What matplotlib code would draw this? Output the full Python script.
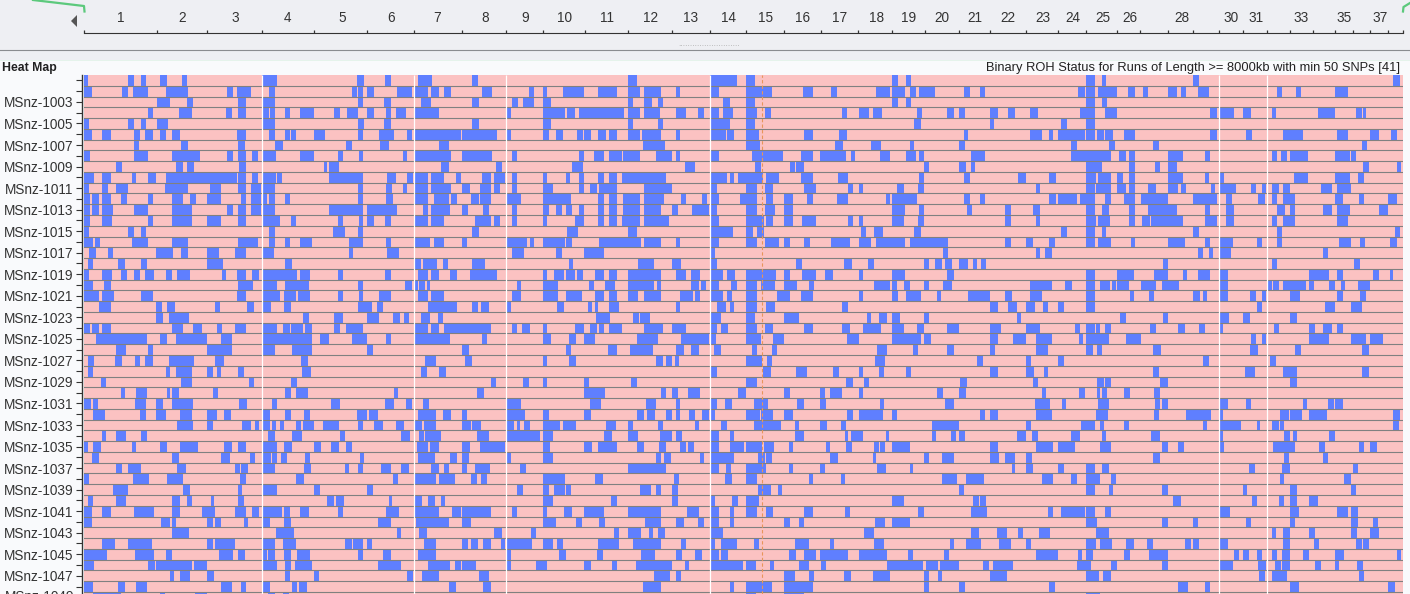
import matplotlib
matplotlib.use("Agg")
import matplotlib.pyplot as plt
from matplotlib.patches import Rectangle, Polygon

# chromosome ruler
chrom_labels = [1, 2, 3, 4, 5, 6, 7, 8, 9, 10, 11, 12, 13, 14, 15, 16, 17, 18, 19, 20, 21, 22, 23, 24, 25, 26, 28, 30, 31, 33, 35, 37]
chrom_label_pos = [121, 182, 235, 288, 342, 391, 437, 485, 525, 564, 607, 651, 691, 728, 766, 803, 840, 877, 909, 942, 975, 1008, 1043, 1073, 1103, 1130, 1182, 1231, 1256, 1301, 1344, 1380]
chrom_bounds = [84, 157, 207, 262, 314, 367, 414, 462, 506, 543, 585, 628, 672, 710, 746, 784, 821, 858, 892, 925, 959, 990, 1026, 1058, 1086, 1117, 1140, 1168, 1193, 1219, 1243, 1267, 1290, 1313, 1335, 1353, 1370, 1388, 1403]
white_bounds = [262, 414, 506, 710, 1219, 1267]
marker_pos = 762

sample_ids = list(range(1001, 1050))

# blue runs (ROH present) per sample, start and end along the genome axis
roh_runs = [
    [(84,88),(128,134),(141,146),(160,167),(182,187),(262,277),(357,364),(385,391),(418,432),(472,478),(628,637),(710,737),(746,755),(892,898),(906,911),(1086,1095),(1102,1106),(1193,1199),(1393,1400)],
    [(84,92),(122,128),(133,148),(166,188),(227,233),(237,251),(269,275),(352,357),(358,363),(367,374),(397,412),(415,428),(431,439),(444,451),(482,492),(529,534),(543,547),(563,584),(598,617),(628,640),(644,661),(676,680),(710,719),(746,772),(803,813),(831,837),(876,890),(892,905),(910,916),(919,935),(964,970),(980,985),(1078,1085),(1086,1095),(1098,1117),(1128,1135),(1143,1148),(1168,1177),(1181,1186),(1198,1209),(1277,1282),(1296,1301),(1335,1348)],
    [(157,170),(187,193),(238,246),(262,275),(358,363),(384,391),(421,431),(472,479),(512,518),(523,534),(543,551),(628,633),(644,652),(658,663),(723,730),(746,755),(892,898),(906,911),(1086,1095),(1102,1107)],
    [(148,153),(179,192),(226,232),(238,246),(262,269),(270,275),(285,290),(300,314),(334,340),(347,358),(367,374),(386,391),(396,406),(414,439),(506,511),(543,565),(567,575),(579,624),(628,640),(644,660),(676,686),(698,704),(710,719),(723,733),(746,757),(765,771),(842,847),(859,869),(873,882),(917,922),(947,954),(959,965),(990,998),(1008,1015),(1030,1038),(1080,1095),(1105,1117),(1210,1217),(1219,1234),(1243,1251),(1272,1276),(1318,1335),(1356,1362),(1363,1366)],
    [(84,89),(128,134),(141,146),(157,168),(262,275),(358,364),(384,391),(472,479),(543,551),(628,633),(658,663),(710,730),(746,755),(914,921),(990,994),(1061,1067),(1086,1095)],
    [(84,92),(102,111),(134,140),(145,153),(160,166),(172,180),(237,246),(269,275),(285,290),(291,296),(314,325),(358,363),(379,394),(407,412),(414,461),(462,497),(506,511),(543,549),(556,563),(577,583),(584,591),(598,606),(609,617),(628,640),(642,661),(676,680),(710,726),(727,734),(746,759),(804,813),(839,847),(964,968),(1030,1042),(1049,1053),(1058,1085),(1086,1095),(1097,1104),(1105,1113),(1124,1135),(1210,1217),(1246,1252),(1283,1303),(1337,1348),(1370,1379),(1391,1397)],
    [(134,139),(181,188),(238,245),(275,283),(346,352),(380,389),(439,449),(643,665),(746,760),(835,843),(871,881),(910,914),(959,965),(1071,1077),(1109,1115),(1153,1159),(1362,1367)],
    [(84,90),(134,148),(172,200),(227,233),(238,246),(252,258),(262,276),(300,314),(338,343),(359,363),(403,407),(414,451),(462,492),(512,517),(579,584),(594,604),(609,622),(623,640),(656,672),(676,680),(710,719),(752,783),(801,813),(820,846),(851,855),(880,890),(906,916),(919,924),(971,985),(1071,1111),(1119,1126),(1129,1135),(1168,1183),(1205,1210),(1272,1277),(1281,1287),(1290,1308),(1335,1350),(1351,1356)],
    [(116,122),(176,183),(187,194),(239,246),(324,327),(329,339),(441,449),(496,502),(572,583),(685,695),(755,761),(790,795),(796,804),(924,929),(959,966),(971,975),(1086,1102),(1129,1135),(1155,1160),(1168,1177),(1363,1369),(1397,1401)],
    [(84,94),(102,111),(132,136),(148,156),(166,237),(238,246),(252,258),(262,276),(277,282),(329,363),(387,396),(407,413),(414,428),(431,444),(456,461),(482,491),(494,505),(512,517),(543,547),(566,570),(579,584),(598,604),(609,617),(622,666),(710,727),(730,734),(738,763),(766,779),(801,813),(838,848),(919,924),(964,970),(1018,1026),(1049,1056),(1086,1096),(1098,1111),(1117,1123),(1129,1135),(1168,1183),(1205,1209),(1219,1224),(1294,1308),(1335,1350),(1358,1364)],
    [(84,89),(102,108),(116,128),(165,188),(210,221),(238,246),(251,261),(262,275),(358,363),(386,392),(403,407),(414,428),(431,451),(462,470),(480,491),(494,500),(512,517),(543,553),(579,584),(590,597),(599,617),(644,672),(710,717),(746,757),(765,773),(804,816),(848,853),(859,863),(897,904),(918,924),(1036,1040),(1086,1095),(1096,1111),(1117,1126),(1129,1135),(1148,1156),(1168,1178),(1181,1186),(1211,1215),(1219,1236),(1251,1256),(1262,1266),(1272,1279),(1283,1290),(1321,1332),(1337,1351)],
    [(84,90),(92,99),(102,111),(121,127),(148,153),(172,183),(190,196),(207,221),(241,246),(251,261),(262,267),(269,275),(285,290),(358,363),(386,393),(414,428),(434,449),(451,457),(471,479),(480,491),(506,521),(543,571),(598,604),(609,617),(623,640),(644,664),(681,686),(702,707),(710,719),(740,757),(766,773),(784,793),(807,813),(837,848),(886,890),(892,917),(964,970),(980,985),(1049,1056),(1058,1077),(1080,1095),(1105,1111),(1124,1135),(1141,1168),(1193,1217),(1226,1232),(1258,1265),(1272,1277),(1283,1295),(1335,1343),(1359,1364),(1388,1397)],
    [(84,90),(92,99),(102,113),(134,148),(172,192),(227,233),(238,246),(251,261),(262,275),(329,363),(367,397),(423,428),(431,450),(462,468),(483,489),(512,517),(543,549),(556,562),(566,572),(579,584),(598,604),(609,617),(623,640),(644,661),(672,678),(692,709),(710,717),(746,757),(765,775),(784,793),(892,905),(919,924),(967,972),(1005,1011),(1033,1040),(1086,1095),(1102,1109),(1129,1135),(1148,1177),(1205,1210),(1226,1234),(1277,1285),(1290,1295),(1323,1332),(1337,1350),(1379,1388)],
    [(84,90),(102,112),(148,153),(172,192),(207,221),(238,246),(262,280),(291,296),(338,343),(359,363),(367,374),(385,391),(414,428),(431,444),(475,491),(494,500),(512,517),(543,547),(575,584),(598,604),(609,617),(622,640),(644,669),(710,719),(746,764),(766,773),(784,793),(802,816),(848,853),(859,863),(892,904),(918,924),(1005,1011),(1036,1040),(1086,1096),(1098,1110),(1129,1135),(1142,1150),(1151,1183),(1205,1217),(1226,1234),(1272,1277),(1283,1295),(1337,1348)],
    [(84,89),(128,134),(141,146),(269,275),(333,345),(358,363),(472,479),(567,578),(628,637),(710,733),(746,753),(757,764),(861,866),(874,883),(914,921),(1061,1067),(1086,1095),(1102,1106),(1193,1199),(1277,1282),(1395,1400)],
    [(84,93),(95,100),(132,148),(172,188),(238,258),(269,275),(285,290),(300,312),(349,363),(386,391),(414,430),(434,444),(462,467),(506,527),(530,534),(543,565),(566,572),(599,641),(644,661),(676,680),(710,719),(746,757),(765,779),(784,790),(804,810),(831,850),(859,871),(876,905),(910,948),(1005,1011),(1026,1033),(1049,1055),(1086,1095),(1098,1111),(1131,1135),(1168,1185),(1205,1210),(1219,1233),(1257,1262),(1277,1282),(1339,1351),(1360,1365),(1390,1397)],
    [(89,96),(108,113),(156,173),(181,188),(207,219),(235,246),(262,274),(349,353),(387,399),(512,524),(556,562),(584,604),(710,715),(943,948),(1036,1040),(1045,1052),(1198,1203),(1209,1213),(1219,1231),(1323,1328)],
    [(88,93),(118,125),(141,147),(207,223),(285,292),(414,421),(423,437),(443,448),(472,485),(569,573),(638,654),(672,681),(710,717),(796,802),(844,852),(868,874),(924,929),(935,942),(945,952),(959,968),(973,977),(981,986),(1163,1168),(1272,1277),(1354,1360)],
    [(84,89),(102,112),(121,127),(134,140),(145,154),(166,172),(177,190),(222,226),(237,246),(252,259),(262,297),(300,310),(338,343),(385,391),(418,428),(431,439),(450,457),(470,497),(543,547),(554,564),(566,575),(577,583),(595,604),(609,617),(628,661),(676,686),(691,700),(710,723),(727,735),(746,776),(784,790),(802,816),(825,833),(859,863),(892,905),(947,954),(1086,1095),(1117,1134),(1154,1168),(1183,1187),(1198,1210),(1219,1228),(1309,1329),(1337,1343),(1373,1379),(1390,1393)],
    [(84,93),(104,111),(238,253),(262,277),(285,309),(358,363),(405,412),(415,418),(419,425),(427,430),(517,521),(543,558),(589,594),(605,615),(628,654),(657,661),(691,699),(701,706),(710,719),(731,737),(746,757),(761,775),(784,797),(809,814),(874,890),(892,897),(904,910),(924,929),(943,952),(1030,1052),(1065,1072),(1086,1095),(1100,1110),(1112,1116),(1117,1129),(1141,1156),(1162,1179),(1219,1228),(1267,1272),(1273,1279),(1283,1306),(1309,1314),(1329,1335),(1341,1345),(1358,1370)],
    [(84,92),(92,99),(102,114),(141,153),(237,246),(262,280),(284,296),(298,310),(338,343),(359,363),(379,391),(418,428),(431,444),(512,521),(543,558),(566,582),(595,604),(609,617),(628,638),(644,661),(680,693),(695,700),(710,723),(727,732),(746,757),(777,790),(801,813),(859,863),(892,898),(906,921),(937,941),(968,990),(1005,1012),(1030,1042),(1086,1095),(1130,1134),(1149,1154),(1193,1200),(1203,1207),(1219,1228),(1250,1256),(1262,1266),(1290,1300),(1337,1343),(1360,1366)],
    [(99,111),(156,162),(167,175),(215,220),(247,254),(262,271),(284,291),(358,372),(377,383),(428,457),(472,478),(481,489),(506,511),(557,564),(588,592),(595,598),(609,619),(676,680),(717,726),(730,734),(746,757),(766,775),(842,848),(990,998),(1008,1017),(1026,1035),(1043,1048),(1058,1064),(1086,1095),(1257,1262),(1325,1335),(1351,1362)],
    [(156,163),(169,189),(303,309),(334,343),(367,379),(393,400),(404,409),(421,430),(438,443),(596,610),(633,639),(640,650),(710,721),(746,755),(784,799),(867,871),(879,887),(892,900),(924,929),(1017,1021),(1120,1126),(1163,1168),(1219,1229),(1243,1250),(1290,1297)],
    [(84,90),(92,99),(102,111),(172,183),(193,202),(217,222),(235,246),(262,277),(283,290),(291,303),(305,312),(334,340),(346,363),(414,428),(431,439),(444,491),(512,517),(522,530),(543,547),(575,584),(590,597),(599,604),(609,622),(644,663),(672,686),(710,717),(721,728),(746,757),(765,773),(804,813),(842,850),(863,881),(892,904),(917,924),(947,959),(990,1001),(1026,1040),(1075,1080),(1086,1095),(1096,1100),(1105,1111),(1150,1156),(1178,1185),(1199,1205),(1219,1223),(1274,1279),(1309,1315),(1323,1332),(1337,1343)],
    [(96,147),(160,167),(176,207),(221,232),(262,312),(320,329),(352,367),(386,391),(414,450),(482,487),(543,551),(569,576),(584,595),(637,658),(681,709),(710,716),(746,761),(773,784),(847,859),(892,921),(924,931),(990,998),(1013,1026),(1036,1052),(1079,1083),(1086,1109),(1126,1141),(1251,1256),(1262,1266),(1309,1329),(1351,1366),(1370,1383)],
    [(116,126),(148,153),(207,232),(262,275),(292,312),(367,373),(462,469),(566,571),(608,617),(630,653),(676,684),(691,699),(714,721),(752,757),(772,777),(877,887),(913,918),(947,954),(990,995),(1036,1048),(1086,1093),(1097,1102),(1153,1161),(1250,1258),(1295,1301),(1362,1369)],
    [(88,94),(115,122),(135,140),(145,153),(169,194),(215,224),(301,308),(425,436),(465,472),(543,547),(569,576),(656,663),(666,672),(675,679),(746,762),(767,772),(875,885),(977,983),(1026,1031),(1058,1064),(1203,1209),(1270,1276)],
    [(88,93),(166,170),(176,192),(207,213),(217,221),(238,244),(302,311),(421,427),(439,446),(710,717),(763,771),(796,807),(833,839),(859,863),(879,884),(906,911),(990,998),(1026,1034),(1044,1048),(1153,1159),(1245,1255),(1283,1297),(1362,1369)],
    [(101,106),(181,192),(249,254),(291,297),(491,496),(523,529),(543,547),(584,589),(631,637),(746,757),(846,853),(864,869),(960,967),(1033,1038),(1097,1104),(1105,1111),(1160,1168),(1290,1297)],
    [(121,125),(136,147),(167,170),(172,179),(213,218),(285,291),(296,308),(394,398),(477,484),(584,605),(661,666),(672,678),(688,700),(738,746),(784,790),(820,825),(830,842),(859,863),(937,943),(959,966),(1042,1046),(1079,1085),(1097,1100),(1102,1107),(1124,1130),(1154,1160)],
    [(84,91),(93,98),(135,146),(156,163),(172,193),(239,247),(272,277),(331,340),(385,394),(406,412),(423,429),(506,521),(590,601),(646,656),(676,680),(710,717),(725,732),(754,768),(797,804),(820,826),(880,884),(945,954),(1035,1050),(1062,1066),(1098,1109),(1155,1160),(1162,1168),(1219,1228),(1246,1251),(1303,1307),(1328,1334),(1335,1343)],
    [(93,105),(140,146),(156,166),(180,192),(207,217),(224,231),(262,270),(285,291),(304,310),(357,367),(369,378),(418,436),(443,451),(462,467),(506,525),(543,549),(584,591),(637,644),(647,655),(666,672),(676,680),(689,695),(702,709),(710,715),(746,760),(761,773),(784,793),(847,853),(859,883),(892,897),(980,985),(990,998),(1036,1052),(1096,1108),(1154,1159),(1186,1211),(1219,1223),(1280,1289),(1290,1302),(1309,1327),(1393,1400)],
    [(177,193),(207,213),(242,251),(255,259),(262,270),(272,276),(280,284),(296,301),(303,314),(323,339),(358,363),(374,383),(396,404),(414,422),(424,436),(462,471),(472,481),(506,514),(517,520),(524,530),(543,560),(563,576),(606,616),(628,633),(658,663),(695,699),(721,727),(754,781),(795,799),(820,827),(841,846),(932,959),(1026,1031),(1081,1095),(1100,1104),(1124,1129),(1203,1207),(1219,1241),(1257,1260),(1272,1279),(1280,1284),(1393,1399)],
    [(102,106),(116,126),(141,147),(268,275),(292,302),(340,345),(401,410),(419,424),(425,441),(477,489),(506,540),(543,553),(604,612),(628,638),(660,672),(676,682),(710,719),(730,734),(795,804),(845,848),(851,863),(886,889),(932,936),(951,956),(959,965),(1017,1026),(1032,1038),(1071,1080),(1102,1106),(1151,1160),(1219,1223),(1284,1290),(1293,1297),(1329,1335)],
    [(84,88),(93,101),(132,136),(160,167),(180,198),(224,232),(238,246),(262,277),(284,292),(314,321),(331,339),(346,352),(417,428),(430,439),(462,470),(480,505),(543,550),(584,592),(598,617),(637,644),(659,666),(680,686),(688,694),(710,719),(730,744),(746,762),(764,774),(789,793),(826,830),(846,852),(874,879),(880,885),(892,910),(990,998),(1036,1053),(1058,1075),(1100,1111),(1162,1168),(1178,1184),(1219,1224),(1273,1295),(1319,1325),(1359,1364),(1370,1377)],
    [(92,99),(172,179),(221,230),(250,255),(262,271),(272,277),(281,287),(305,310),(360,364),(418,435),(450,457),(462,469),(506,511),(543,553),(656,661),(664,671),(700,704),(710,734),(758,765),(766,772),(830,838),(873,876),(924,929),(942,954),(990,999),(1005,1015),(1026,1032),(1153,1160),(1284,1289),(1323,1328)],
    [(116,122),(128,141),(177,186),(235,240),(241,248),(262,275),(304,311),(345,349),(358,363),(381,391),(401,409),(431,439),(444,449),(462,467),(475,490),(520,526),(628,666),(710,719),(726,731),(746,766),(789,793),(820,825),(877,886),(910,913),(1012,1015),(1026,1033),(1058,1064),(1086,1095),(1102,1109),(1249,1255),(1282,1290),(1353,1358)],
    [(84,89),(133,149),(167,183),(240,246),(296,304),(393,398),(415,436),(439,455),(471,477),(481,487),(543,565),(595,603),(674,679),(725,732),(746,757),(809,813),(841,845),(942,957),(966,984),(1042,1053),(1071,1077),(1086,1100),(1111,1116),(1280,1284),(1344,1351)],
    [(113,128),(183,190),(238,242),(262,277),(314,320),(367,373),(517,523),(543,549),(554,565),(566,571),(640,651),(656,661),(672,678),(758,771),(778,782),(959,964),(1086,1095),(1109,1113),(1162,1168),(1243,1247),(1290,1297),(1351,1356)],
    [(88,93),(116,126),(172,180),(187,192),(211,214),(238,244),(327,334),(336,344),(389,392),(414,422),(428,435),(441,445),(543,553),(611,617),(672,678),(710,715),(732,738),(746,759),(892,904),(973,979),(980,986),(1173,1181),(1252,1257),(1279,1284),(1290,1297),(1309,1318)],
    [(84,92),(102,111),(134,154),(172,180),(202,215),(235,246),(252,259),(262,282),(284,290),(300,309),(338,343),(386,399),(414,439),(452,461),(462,491),(512,517),(543,547),(564,572),(584,604),(628,661),(687,699),(710,719),(730,734),(746,757),(766,773),(804,813),(845,850),(918,924),(971,987),(1048,1053),(1061,1085),(1086,1095),(1105,1111),(1219,1230),(1290,1299),(1337,1348),(1351,1358)],
    [(84,92),(161,170),(172,176),(207,213),(215,221),(244,248),(262,270),(284,291),(378,391),(416,449),(462,471),(543,556),(576,582),(599,605),(645,661),(676,684),(698,704),(710,719),(730,734),(784,790),(799,804),(875,885),(892,910),(1086,1097),(1162,1168),(1193,1198),(1246,1251),(1290,1295),(1351,1358),(1373,1378)],
    [(172,189),(276,294),(397,401),(419,427),(494,502),(531,536),(614,619),(628,641),(649,653),(658,665),(710,723),(864,874),(971,979),(997,1007),(1018,1023),(1039,1050),(1096,1109),(1272,1276),(1283,1290),(1309,1315),(1351,1357),(1370,1379)],
    [(102,115),(128,152),(207,213),(215,235),(262,275),(283,296),(345,352),(353,363),(367,372),(424,436),(462,468),(471,478),(483,491),(501,505),(506,532),(543,553),(557,563),(598,619),(633,661),(681,686),(710,715),(721,737),(754,759),(795,809),(830,834),(874,884),(950,954),(966,981),(999,1011),(1026,1031),(1086,1096),(1100,1112),(1126,1134),(1147,1153),(1185,1191),(1193,1199),(1219,1228),(1283,1290),(1314,1319),(1356,1362),(1363,1369)],
    [(84,107),(135,154),(166,172),(219,233),(238,245),(262,267),(268,275),(284,291),(297,310),(358,363),(383,391),(418,436),(506,511),(559,566),(597,603),(641,655),(676,682),(695,702),(710,719),(721,728),(789,796),(804,816),(820,848),(859,887),(908,913),(944,949),(1036,1058),(1078,1082),(1086,1093),(1124,1130),(1149,1168),(1234,1239),(1243,1249),(1257,1262),(1272,1277),(1282,1290),(1303,1309),(1335,1344),(1397,1401)],
    [(84,94),(148,155),(156,192),(194,207),(262,277),(285,291),(295,312),(378,401),(428,450),(455,461),(462,476),(506,511),(536,547),(584,591),(612,617),(636,672),(685,689),(710,743),(746,756),(770,774),(799,809),(821,826),(887,923),(926,938),(940,959),(983,989),(993,1013),(1077,1091),(1111,1117),(1162,1168),(1219,1233),(1258,1266),(1275,1281),(1282,1290),(1315,1321),(1335,1339),(1357,1363)],
    [(170,174),(180,190),(207,214),(285,290),(314,319),(407,413),(422,439),(479,489),(654,670),(676,681),(784,795),(809,814),(844,851),(873,890),(924,929),(938,942),(990,1007),(1086,1099),(1103,1111),(1259,1265),(1272,1287),(1359,1364)],
    [(84,93),(118,125),(136,147),(221,232),(241,246),(262,270),(292,297),(299,307),(449,456),(483,491),(643,661),(730,734),(746,772),(784,813),(924,929),(959,965),(1049,1055),(1178,1188),(1205,1210),(1290,1299),(1388,1395)],
    [(93,121),(160,165),(195,207),(268,275),(283,289),(746,756),(784,804),(1086,1100)],
]

blue = "#5F7FFF"
pink = "#FBC2C2"
row_line = "#808080"

W, H = 1410, 594
fig = plt.figure(figsize=(W / 100, H / 100), dpi=100, facecolor="#F9FAFC")
plt.rcParams["font.family"] = ["Liberation Sans", "DejaVu Sans"]

def px_axes(x0, y0, x1, y1):
    return fig.add_axes([x0 / W, 1 - y1 / H, (x1 - x0) / W, (y1 - y0) / H])

# top panel with the ruler
top = px_axes(0, 0, W, 61)
top.set_xlim(0, W)
top.set_ylim(61, 0)
top.axis("off")
top.add_patch(Rectangle((0, 0), W, 60, color="#EEEFF3", lw=0))
top.plot([0, W], [49.5, 49.5], color="#8A8C90", lw=0.8)
top.plot([0, W], [60.5, 60.5], color="#5CC97C", lw=0.9)
top.plot([33, 84, 84.5], [0, 6, 11.5], color="#5CC97C", lw=1.6)
top.plot([1403, 1403.5, 1410], [11.5, 7, 3], color="#5CC97C", lw=1.6)
top.add_patch(Polygon([[71, 21], [77, 15], [77, 27]], closed=True, color="#555555", lw=0))
top.plot([84, 1403], [33, 33], color="#333333", lw=0.8)
top.vlines(chrom_bounds, 30, 33, color="#333333", lw=0.9)
for lab, x in zip(chrom_labels, chrom_label_pos):
    top.text(x, 18, str(lab), ha="center", va="center", fontsize=9.8, color="#333333")
top.text(709, 44, "." * 26, ha="center", va="center", fontsize=6, color="#A8A8A8")

# heat map header
fig.text(2 / W, 1 - 67.5 / H, "Heat Map", ha="left", va="center", fontsize=8.8, fontweight="bold", color="#222222")
fig.text(1400 / W, 1 - 67.5 / H, "Binary ROH Status for Runs of Length >= 8000kb with min 50 SNPs [41]",
         ha="right", va="center", fontsize=9.3, color="#222222")

# heat map body, one row per sample
ax = px_axes(84, 75, 1403, H)
row_h = 10.77
ax.set_xlim(84, 1403)
ax.set_facecolor(pink)
for i, runs in enumerate(roh_runs):
    ax.broken_barh([(a, b - a) for a, b in runs], (i, 1), facecolors=blue, linewidth=0)
    ax.axhline(i + 1, color=row_line, lw=0.8)
ax.vlines(white_bounds, 0, len(roh_runs), color="white", lw=0.9)
ax.axvline(marker_pos, color="#E8955A", lw=0.8, ls=(0, (3, 2)))

for s in ["top", "right", "bottom"]:
    ax.spines[s].set_visible(False)
ax.spines["left"].set_color("#333333")
ax.spines["left"].set_linewidth(1.0)
ax.spines["left"].set_position(("outward", 1.5))
ax.set_xticks([])
ax.set_yticks([i + 0.5 for i in range(len(sample_ids))])
ax.set_yticklabels([f"MSnz-{s}" if (s - 1001) % 2 == 0 and s > 1001 else "" for s in sample_ids],
                   fontsize=9.8, color="#333333")
ax.tick_params(axis="y", length=4.5, width=0.8, color="#333333", pad=1.5)
# set_yticks widens the limits, so the view is set after it
ax.set_ylim((H - 75) / row_h, 0)

# last label sits past the bottom edge, only its top shows
ax.text(-0.0075, 48.5, f"MSnz-{sample_ids[-1]}", transform=ax.get_yaxis_transform(), ha="right", va="center",
        fontsize=9.8, color="#333333", clip_on=False)

fig.savefig("out.png", dpi=100, facecolor=fig.get_facecolor())
